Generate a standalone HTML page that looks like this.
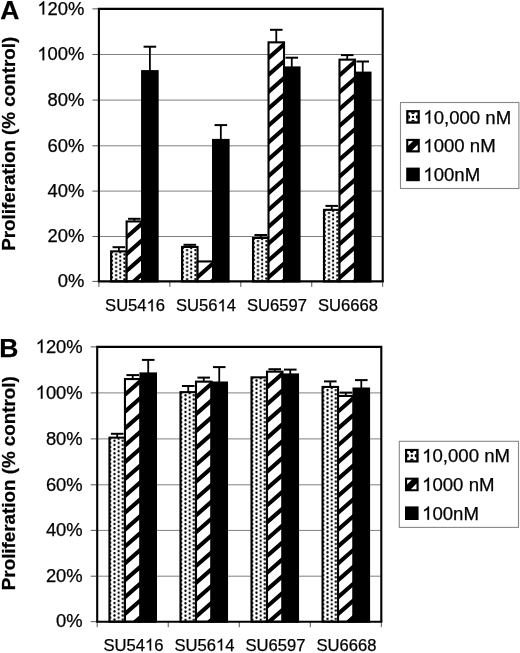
<!DOCTYPE html>
<html><head><meta charset="utf-8"><title>Proliferation chart</title>
<style>
html,body{margin:0;padding:0;background:#fff;}
body{width:520px;height:653px;overflow:hidden;font-family:"Liberation Sans", sans-serif;}
svg{display:block;filter:grayscale(1);}
</style></head><body>
<svg width="520" height="653" viewBox="0 0 520 653" font-family="Liberation Sans, sans-serif" fill="#000"><style>text{stroke:#000;stroke-width:0.25px;} .o{fill:none;stroke:none;}</style><defs><pattern id="p1" patternUnits="userSpaceOnUse" x="111.97" y="252.45" width="8.3" height="4.16"><rect width="8.3" height="4.16" fill="#fff"/><circle cx="0" cy="0" r="1.15"/><circle cx="8.3" cy="0" r="1.15"/><circle cx="0" cy="4.16" r="1.15"/><circle cx="8.3" cy="4.16" r="1.15"/><circle cx="4.15" cy="2.08" r="1.15"/></pattern><clipPath id="c2"><rect x="126.62" y="221.45" width="15.5" height="59.95"/></clipPath><pattern id="p3" patternUnits="userSpaceOnUse" x="182.92" y="248.05" width="8.3" height="4.16"><rect width="8.3" height="4.16" fill="#fff"/><circle cx="0" cy="0" r="1.15"/><circle cx="8.3" cy="0" r="1.15"/><circle cx="0" cy="4.16" r="1.15"/><circle cx="8.3" cy="4.16" r="1.15"/><circle cx="4.15" cy="2.08" r="1.15"/></pattern><clipPath id="c4"><rect x="197.57" y="261.45" width="15.5" height="19.95"/></clipPath><pattern id="p5" patternUnits="userSpaceOnUse" x="253.87" y="239.05" width="8.3" height="4.16"><rect width="8.3" height="4.16" fill="#fff"/><circle cx="0" cy="0" r="1.15"/><circle cx="8.3" cy="0" r="1.15"/><circle cx="0" cy="4.16" r="1.15"/><circle cx="8.3" cy="4.16" r="1.15"/><circle cx="4.15" cy="2.08" r="1.15"/></pattern><clipPath id="c6"><rect x="268.52" y="42.35" width="15.5" height="239.05"/></clipPath><pattern id="p7" patternUnits="userSpaceOnUse" x="324.83" y="210.95" width="8.3" height="4.16"><rect width="8.3" height="4.16" fill="#fff"/><circle cx="0" cy="0" r="1.15"/><circle cx="8.3" cy="0" r="1.15"/><circle cx="0" cy="4.16" r="1.15"/><circle cx="8.3" cy="4.16" r="1.15"/><circle cx="4.15" cy="2.08" r="1.15"/></pattern><clipPath id="c8"><rect x="339.48" y="59.65" width="15.5" height="221.75"/></clipPath><clipPath id="c9"><rect x="408.3" y="112.2" width="9.4" height="9.4"/></clipPath><pattern id="p10" patternUnits="userSpaceOnUse" x="110.31" y="438.75" width="8.3" height="4.16"><rect width="8.3" height="4.16" fill="#fff"/><circle cx="0" cy="0" r="1.15"/><circle cx="8.3" cy="0" r="1.15"/><circle cx="0" cy="4.16" r="1.15"/><circle cx="8.3" cy="4.16" r="1.15"/><circle cx="4.15" cy="2.08" r="1.15"/></pattern><clipPath id="c11"><rect x="124.96" y="379.05" width="15.5" height="242.65"/></clipPath><pattern id="p12" patternUnits="userSpaceOnUse" x="181.34" y="393.25" width="8.3" height="4.16"><rect width="8.3" height="4.16" fill="#fff"/><circle cx="0" cy="0" r="1.15"/><circle cx="8.3" cy="0" r="1.15"/><circle cx="0" cy="4.16" r="1.15"/><circle cx="8.3" cy="4.16" r="1.15"/><circle cx="4.15" cy="2.08" r="1.15"/></pattern><clipPath id="c13"><rect x="195.99" y="381.65" width="15.5" height="240.05"/></clipPath><pattern id="p14" patternUnits="userSpaceOnUse" x="252.36" y="378.45" width="8.3" height="4.16"><rect width="8.3" height="4.16" fill="#fff"/><circle cx="0" cy="0" r="1.15"/><circle cx="8.3" cy="0" r="1.15"/><circle cx="0" cy="4.16" r="1.15"/><circle cx="8.3" cy="4.16" r="1.15"/><circle cx="4.15" cy="2.08" r="1.15"/></pattern><clipPath id="c15"><rect x="267.01" y="371.65" width="15.5" height="250.05"/></clipPath><pattern id="p16" patternUnits="userSpaceOnUse" x="323.39" y="388.05" width="8.3" height="4.16"><rect width="8.3" height="4.16" fill="#fff"/><circle cx="0" cy="0" r="1.15"/><circle cx="8.3" cy="0" r="1.15"/><circle cx="0" cy="4.16" r="1.15"/><circle cx="8.3" cy="4.16" r="1.15"/><circle cx="4.15" cy="2.08" r="1.15"/></pattern><clipPath id="c17"><rect x="338.04" y="395.95" width="15.5" height="225.75"/></clipPath><clipPath id="c18"><rect x="407.1" y="451" width="9.4" height="9.4"/></clipPath></defs><g><rect width="520" height="653" fill="#fff"/><line x1="98.9" y1="54.5" x2="382.7" y2="54.5" stroke="#808080" stroke-width="1.0"/>
<line x1="98.9" y1="100.1" x2="382.7" y2="100.1" stroke="#808080" stroke-width="1.0"/>
<line x1="98.9" y1="145.8" x2="382.7" y2="145.8" stroke="#808080" stroke-width="1.0"/>
<line x1="98.9" y1="191.1" x2="382.7" y2="191.1" stroke="#808080" stroke-width="1.0"/>
<line x1="98.9" y1="236.5" x2="382.7" y2="236.5" stroke="#808080" stroke-width="1.0"/>
<line x1="92.4" y1="281.4" x2="98.9" y2="281.4" stroke="#555" stroke-width="1"/>
<line x1="92.4" y1="236.5" x2="98.9" y2="236.5" stroke="#555" stroke-width="1"/>
<line x1="92.4" y1="191.1" x2="98.9" y2="191.1" stroke="#555" stroke-width="1"/>
<line x1="92.4" y1="145.8" x2="98.9" y2="145.8" stroke="#555" stroke-width="1"/>
<line x1="92.4" y1="100.1" x2="98.9" y2="100.1" stroke="#555" stroke-width="1"/>
<line x1="92.4" y1="54.5" x2="98.9" y2="54.5" stroke="#555" stroke-width="1"/>
<line x1="92.4" y1="8.85" x2="98.9" y2="8.85" stroke="#555" stroke-width="1"/>
<line x1="98.9" y1="281.4" x2="98.9" y2="286.9" stroke="#555" stroke-width="1"/>
<line x1="169.85" y1="281.4" x2="169.85" y2="286.9" stroke="#555" stroke-width="1"/>
<line x1="240.8" y1="281.4" x2="240.8" y2="286.9" stroke="#555" stroke-width="1"/>
<line x1="311.75" y1="281.4" x2="311.75" y2="286.9" stroke="#555" stroke-width="1"/>
<line x1="382.7" y1="281.4" x2="382.7" y2="286.9" stroke="#555" stroke-width="1"/>
<text x="84.4" y="287.13" text-anchor="end" font-size="18.4" class="r">0%</text>
<text x="84.4" y="242.23" text-anchor="end" font-size="18.4" class="r">20%</text>
<text x="84.4" y="196.83" text-anchor="end" font-size="18.4" class="r">40%</text>
<text x="84.4" y="151.53" text-anchor="end" font-size="18.4" class="r">60%</text>
<text x="84.4" y="105.83" text-anchor="end" font-size="18.4" class="r">80%</text>
<text x="84.4" y="60.23" text-anchor="end" font-size="18.4" class="r"><tspan class="o">1</tspan>00%</text>
<text x="84.4" y="14.58" text-anchor="end" font-size="18.4" class="r"><tspan class="o">1</tspan>20%</text>
<rect x="111.12" y="251.35" width="15.5" height="30.05" fill="url(#p1)"/>
<rect x="111.12" y="251.35" width="15.5" height="30.05" fill="none" stroke="#000" stroke-width="2.1"/>
<line x1="118.88" y1="247.2" x2="118.88" y2="251.35" stroke="#000" stroke-width="1.8"/>
<line x1="112.58" y1="247.2" x2="125.17" y2="247.2" stroke="#000" stroke-width="2.0"/>
<g clip-path="url(#c2)"><rect x="126.62" y="221.45" width="15.5" height="59.95" fill="#fff"/><path d="M122.62 206.87L146.12 186.19M122.62 223.74L146.12 203.06M122.62 240.61L146.12 219.93M122.62 257.48L146.12 236.8M122.62 274.35L146.12 253.67M122.62 291.22L146.12 270.54M122.62 308.09L146.12 287.41M122.62 324.96L146.12 304.28" stroke="#000" stroke-width="4.1" fill="none"/></g>
<rect x="126.62" y="221.45" width="15.5" height="59.95" fill="none" stroke="#000" stroke-width="2.1"/>
<line x1="134.38" y1="218.8" x2="134.38" y2="221.45" stroke="#000" stroke-width="1.8"/>
<line x1="128.07" y1="218.8" x2="140.68" y2="218.8" stroke="#000" stroke-width="2.0"/>
<rect x="142.12" y="71.15" width="15.5" height="210.25" fill="#000"/>
<rect x="142.12" y="71.15" width="15.5" height="210.25" fill="none" stroke="#000" stroke-width="2.1"/>
<line x1="149.88" y1="46.7" x2="149.88" y2="71.15" stroke="#000" stroke-width="1.8"/>
<line x1="143.57" y1="46.7" x2="156.18" y2="46.7" stroke="#000" stroke-width="2.0"/>
<rect x="182.07" y="246.95" width="15.5" height="34.45" fill="url(#p3)"/>
<rect x="182.07" y="246.95" width="15.5" height="34.45" fill="none" stroke="#000" stroke-width="2.1"/>
<line x1="189.82" y1="244.8" x2="189.82" y2="246.95" stroke="#000" stroke-width="1.8"/>
<line x1="183.52" y1="244.8" x2="196.12" y2="244.8" stroke="#000" stroke-width="2.0"/>
<g clip-path="url(#c4)"><rect x="197.57" y="261.45" width="15.5" height="19.95" fill="#fff"/><path d="M193.57 246.87L217.07 226.19M193.57 263.74L217.07 243.06M193.57 280.61L217.07 259.93M193.57 297.48L217.07 276.8M193.57 314.35L217.07 293.67M193.57 331.22L217.07 310.54" stroke="#000" stroke-width="4.1" fill="none"/></g>
<rect x="197.57" y="261.45" width="15.5" height="19.95" fill="none" stroke="#000" stroke-width="2.1"/>
<rect x="213.07" y="139.95" width="15.5" height="141.45" fill="#000"/>
<rect x="213.07" y="139.95" width="15.5" height="141.45" fill="none" stroke="#000" stroke-width="2.1"/>
<line x1="220.82" y1="125.1" x2="220.82" y2="139.95" stroke="#000" stroke-width="1.8"/>
<line x1="214.52" y1="125.1" x2="227.12" y2="125.1" stroke="#000" stroke-width="2.0"/>
<rect x="253.02" y="237.95" width="15.5" height="43.45" fill="url(#p5)"/>
<rect x="253.02" y="237.95" width="15.5" height="43.45" fill="none" stroke="#000" stroke-width="2.1"/>
<line x1="260.77" y1="235" x2="260.77" y2="237.95" stroke="#000" stroke-width="1.8"/>
<line x1="254.47" y1="235" x2="267.07" y2="235" stroke="#000" stroke-width="2.0"/>
<g clip-path="url(#c6)"><rect x="268.52" y="42.35" width="15.5" height="239.05" fill="#fff"/><path d="M264.52 27.77L288.02 7.09M264.52 44.64L288.02 23.96M264.52 61.51L288.02 40.83M264.52 78.38L288.02 57.7M264.52 95.25L288.02 74.57M264.52 112.12L288.02 91.44M264.52 128.99L288.02 108.31M264.52 145.86L288.02 125.18M264.52 162.73L288.02 142.05M264.52 179.6L288.02 158.92M264.52 196.47L288.02 175.79M264.52 213.34L288.02 192.66M264.52 230.21L288.02 209.53M264.52 247.08L288.02 226.4M264.52 263.95L288.02 243.27M264.52 280.82L288.02 260.14M264.52 297.69L288.02 277.01M264.52 314.56L288.02 293.88M264.52 331.43L288.02 310.75" stroke="#000" stroke-width="4.1" fill="none"/></g>
<rect x="268.52" y="42.35" width="15.5" height="239.05" fill="none" stroke="#000" stroke-width="2.1"/>
<line x1="276.27" y1="29.8" x2="276.27" y2="42.35" stroke="#000" stroke-width="1.8"/>
<line x1="269.97" y1="29.8" x2="282.57" y2="29.8" stroke="#000" stroke-width="2.0"/>
<rect x="284.02" y="67.45" width="15.5" height="213.95" fill="#000"/>
<rect x="284.02" y="67.45" width="15.5" height="213.95" fill="none" stroke="#000" stroke-width="2.1"/>
<line x1="291.77" y1="57.7" x2="291.77" y2="67.45" stroke="#000" stroke-width="1.8"/>
<line x1="285.47" y1="57.7" x2="298.07" y2="57.7" stroke="#000" stroke-width="2.0"/>
<rect x="323.98" y="209.85" width="15.5" height="71.55" fill="url(#p7)"/>
<rect x="323.98" y="209.85" width="15.5" height="71.55" fill="none" stroke="#000" stroke-width="2.1"/>
<line x1="331.73" y1="205.9" x2="331.73" y2="209.85" stroke="#000" stroke-width="1.8"/>
<line x1="325.43" y1="205.9" x2="338.03" y2="205.9" stroke="#000" stroke-width="2.0"/>
<g clip-path="url(#c8)"><rect x="339.48" y="59.65" width="15.5" height="221.75" fill="#fff"/><path d="M335.48 45.07L358.98 24.39M335.48 61.94L358.98 41.26M335.48 78.81L358.98 58.13M335.48 95.68L358.98 75M335.48 112.55L358.98 91.87M335.48 129.42L358.98 108.74M335.48 146.29L358.98 125.61M335.48 163.16L358.98 142.48M335.48 180.03L358.98 159.35M335.48 196.9L358.98 176.22M335.48 213.77L358.98 193.09M335.48 230.64L358.98 209.96M335.48 247.51L358.98 226.83M335.48 264.38L358.98 243.7M335.48 281.25L358.98 260.57M335.48 298.12L358.98 277.44M335.48 314.99L358.98 294.31M335.48 331.86L358.98 311.18" stroke="#000" stroke-width="4.1" fill="none"/></g>
<rect x="339.48" y="59.65" width="15.5" height="221.75" fill="none" stroke="#000" stroke-width="2.1"/>
<line x1="347.23" y1="55.1" x2="347.23" y2="59.65" stroke="#000" stroke-width="1.8"/>
<line x1="340.93" y1="55.1" x2="353.53" y2="55.1" stroke="#000" stroke-width="2.0"/>
<rect x="354.98" y="72.65" width="15.5" height="208.75" fill="#000"/>
<rect x="354.98" y="72.65" width="15.5" height="208.75" fill="none" stroke="#000" stroke-width="2.1"/>
<line x1="362.73" y1="61.5" x2="362.73" y2="72.65" stroke="#000" stroke-width="1.8"/>
<line x1="356.43" y1="61.5" x2="369.03" y2="61.5" stroke="#000" stroke-width="2.0"/>
<path d="M98.9 281.4V8.85H382.7V281.4" fill="none" stroke="#000" stroke-width="2.1" stroke-linejoin="miter"/>
<line x1="97.85" y1="281.4" x2="383.75" y2="281.4" stroke="#000" stroke-width="2.1"/>
<text x="135.07" y="311.3" text-anchor="middle" font-size="16.6" class="r">SU54<tspan class="o">1</tspan>6</text>
<text x="206.02" y="311.3" text-anchor="middle" font-size="16.6" class="r">SU56<tspan class="o">1</tspan>4</text>
<text x="276.97" y="311.3" text-anchor="middle" font-size="16.6" class="r">SU6597</text>
<text x="347.92" y="311.3" text-anchor="middle" font-size="16.6" class="r">SU6668</text>
<text transform="translate(15,143.8) rotate(-90)" text-anchor="middle" font-size="18.8" font-weight="bold">Proliferation (% control)</text>
<text x="0.2" y="18.8" font-size="26.5" font-weight="bold">A</text>
<rect x="400.5" y="102.5" width="118.4" height="86" fill="#fff" stroke="#888" stroke-width="1.1"/>
<rect x="406.2" y="110.1" width="13.6" height="13.6" fill="#000"/>
<g clip-path="url(#c9)"><rect x="408.3" y="112.2" width="9.4" height="9.4" fill="#fff"/><circle cx="413" cy="116.9" r="1.2"/><circle cx="413" cy="112.2" r="1.9"/><circle cx="413" cy="121.6" r="1.9"/><circle cx="408.3" cy="116.9" r="1.9"/><circle cx="417.7" cy="116.9" r="1.9"/></g>
<text x="423.3" y="123.5" font-size="18.6" class="r"><tspan class="o">1</tspan>0,000 nM</text>
<rect x="406.2" y="138.85" width="13.6" height="13.6" fill="#000"/>
<path d="M408.3 140.95h4.8L408.3 145.75Z" fill="#fff"/>
<path d="M417.7 150.35h-5.6L417.7 144.75Z" fill="#fff"/>
<text x="423.3" y="152.25" font-size="18.6" class="r"><tspan class="o">1</tspan>000 nM</text>
<rect x="406.2" y="167.6" width="13.6" height="13.6" fill="#000"/>
<text x="423.3" y="181" font-size="18.6" class="r"><tspan class="o">1</tspan>00nM</text>
<line x1="97.2" y1="392.9" x2="381.3" y2="392.9" stroke="#808080" stroke-width="1.0"/>
<line x1="97.2" y1="438.9" x2="381.3" y2="438.9" stroke="#808080" stroke-width="1.0"/>
<line x1="97.2" y1="484.8" x2="381.3" y2="484.8" stroke="#808080" stroke-width="1.0"/>
<line x1="97.2" y1="530.4" x2="381.3" y2="530.4" stroke="#808080" stroke-width="1.0"/>
<line x1="97.2" y1="576.2" x2="381.3" y2="576.2" stroke="#808080" stroke-width="1.0"/>
<line x1="90.7" y1="621.7" x2="97.2" y2="621.7" stroke="#555" stroke-width="1"/>
<line x1="90.7" y1="576.2" x2="97.2" y2="576.2" stroke="#555" stroke-width="1"/>
<line x1="90.7" y1="530.4" x2="97.2" y2="530.4" stroke="#555" stroke-width="1"/>
<line x1="90.7" y1="484.8" x2="97.2" y2="484.8" stroke="#555" stroke-width="1"/>
<line x1="90.7" y1="438.9" x2="97.2" y2="438.9" stroke="#555" stroke-width="1"/>
<line x1="90.7" y1="392.9" x2="97.2" y2="392.9" stroke="#555" stroke-width="1"/>
<line x1="90.7" y1="346.9" x2="97.2" y2="346.9" stroke="#555" stroke-width="1"/>
<line x1="97.2" y1="621.7" x2="97.2" y2="627.2" stroke="#555" stroke-width="1"/>
<line x1="168.23" y1="621.7" x2="168.23" y2="627.2" stroke="#555" stroke-width="1"/>
<line x1="239.25" y1="621.7" x2="239.25" y2="627.2" stroke="#555" stroke-width="1"/>
<line x1="310.28" y1="621.7" x2="310.28" y2="627.2" stroke="#555" stroke-width="1"/>
<line x1="381.3" y1="621.7" x2="381.3" y2="627.2" stroke="#555" stroke-width="1"/>
<text x="82.7" y="627.43" text-anchor="end" font-size="18.4" class="r">0%</text>
<text x="82.7" y="581.93" text-anchor="end" font-size="18.4" class="r">20%</text>
<text x="82.7" y="536.13" text-anchor="end" font-size="18.4" class="r">40%</text>
<text x="82.7" y="490.53" text-anchor="end" font-size="18.4" class="r">60%</text>
<text x="82.7" y="444.63" text-anchor="end" font-size="18.4" class="r">80%</text>
<text x="82.7" y="398.63" text-anchor="end" font-size="18.4" class="r"><tspan class="o">1</tspan>00%</text>
<text x="82.7" y="352.63" text-anchor="end" font-size="18.4" class="r"><tspan class="o">1</tspan>20%</text>
<rect x="109.46" y="437.65" width="15.5" height="184.05" fill="url(#p10)"/>
<rect x="109.46" y="437.65" width="15.5" height="184.05" fill="none" stroke="#000" stroke-width="2.1"/>
<line x1="117.21" y1="433.8" x2="117.21" y2="437.65" stroke="#000" stroke-width="1.8"/>
<line x1="110.91" y1="433.8" x2="123.51" y2="433.8" stroke="#000" stroke-width="2.0"/>
<g clip-path="url(#c11)"><rect x="124.96" y="379.05" width="15.5" height="242.65" fill="#fff"/><path d="M120.96 364.47L144.46 343.79M120.96 381.34L144.46 360.66M120.96 398.21L144.46 377.53M120.96 415.08L144.46 394.4M120.96 431.95L144.46 411.27M120.96 448.82L144.46 428.14M120.96 465.69L144.46 445.01M120.96 482.56L144.46 461.88M120.96 499.43L144.46 478.75M120.96 516.3L144.46 495.62M120.96 533.17L144.46 512.49M120.96 550.04L144.46 529.36M120.96 566.91L144.46 546.23M120.96 583.78L144.46 563.1M120.96 600.65L144.46 579.97M120.96 617.52L144.46 596.84M120.96 634.39L144.46 613.71M120.96 651.26L144.46 630.58M120.96 668.13L144.46 647.45" stroke="#000" stroke-width="4.1" fill="none"/></g>
<rect x="124.96" y="379.05" width="15.5" height="242.65" fill="none" stroke="#000" stroke-width="2.1"/>
<line x1="132.71" y1="375.1" x2="132.71" y2="379.05" stroke="#000" stroke-width="1.8"/>
<line x1="126.41" y1="375.1" x2="139.01" y2="375.1" stroke="#000" stroke-width="2.0"/>
<rect x="140.46" y="373.45" width="15.5" height="248.25" fill="#000"/>
<rect x="140.46" y="373.45" width="15.5" height="248.25" fill="none" stroke="#000" stroke-width="2.1"/>
<line x1="148.21" y1="359.9" x2="148.21" y2="373.45" stroke="#000" stroke-width="1.8"/>
<line x1="141.91" y1="359.9" x2="154.51" y2="359.9" stroke="#000" stroke-width="2.0"/>
<rect x="180.49" y="392.15" width="15.5" height="229.55" fill="url(#p12)"/>
<rect x="180.49" y="392.15" width="15.5" height="229.55" fill="none" stroke="#000" stroke-width="2.1"/>
<line x1="188.24" y1="386" x2="188.24" y2="392.15" stroke="#000" stroke-width="1.8"/>
<line x1="181.94" y1="386" x2="194.54" y2="386" stroke="#000" stroke-width="2.0"/>
<g clip-path="url(#c13)"><rect x="195.99" y="381.65" width="15.5" height="240.05" fill="#fff"/><path d="M191.99 367.07L215.49 346.39M191.99 383.94L215.49 363.26M191.99 400.81L215.49 380.13M191.99 417.68L215.49 397M191.99 434.55L215.49 413.87M191.99 451.42L215.49 430.74M191.99 468.29L215.49 447.61M191.99 485.16L215.49 464.48M191.99 502.03L215.49 481.35M191.99 518.9L215.49 498.22M191.99 535.77L215.49 515.09M191.99 552.64L215.49 531.96M191.99 569.51L215.49 548.83M191.99 586.38L215.49 565.7M191.99 603.25L215.49 582.57M191.99 620.12L215.49 599.44M191.99 636.99L215.49 616.31M191.99 653.86L215.49 633.18M191.99 670.73L215.49 650.05" stroke="#000" stroke-width="4.1" fill="none"/></g>
<rect x="195.99" y="381.65" width="15.5" height="240.05" fill="none" stroke="#000" stroke-width="2.1"/>
<line x1="203.74" y1="377.6" x2="203.74" y2="381.65" stroke="#000" stroke-width="1.8"/>
<line x1="197.44" y1="377.6" x2="210.04" y2="377.6" stroke="#000" stroke-width="2.0"/>
<rect x="211.49" y="382.55" width="15.5" height="239.15" fill="#000"/>
<rect x="211.49" y="382.55" width="15.5" height="239.15" fill="none" stroke="#000" stroke-width="2.1"/>
<line x1="219.24" y1="367.1" x2="219.24" y2="382.55" stroke="#000" stroke-width="1.8"/>
<line x1="212.94" y1="367.1" x2="225.54" y2="367.1" stroke="#000" stroke-width="2.0"/>
<rect x="251.51" y="377.35" width="15.5" height="244.35" fill="url(#p14)"/>
<rect x="251.51" y="377.35" width="15.5" height="244.35" fill="none" stroke="#000" stroke-width="2.1"/>
<g clip-path="url(#c15)"><rect x="267.01" y="371.65" width="15.5" height="250.05" fill="#fff"/><path d="M263.01 357.07L286.51 336.39M263.01 373.94L286.51 353.26M263.01 390.81L286.51 370.13M263.01 407.68L286.51 387M263.01 424.55L286.51 403.87M263.01 441.42L286.51 420.74M263.01 458.29L286.51 437.61M263.01 475.16L286.51 454.48M263.01 492.03L286.51 471.35M263.01 508.9L286.51 488.22M263.01 525.77L286.51 505.09M263.01 542.64L286.51 521.96M263.01 559.51L286.51 538.83M263.01 576.38L286.51 555.7M263.01 593.25L286.51 572.57M263.01 610.12L286.51 589.44M263.01 626.99L286.51 606.31M263.01 643.86L286.51 623.18M263.01 660.73L286.51 640.05" stroke="#000" stroke-width="4.1" fill="none"/></g>
<rect x="267.01" y="371.65" width="15.5" height="250.05" fill="none" stroke="#000" stroke-width="2.1"/>
<line x1="274.76" y1="369.2" x2="274.76" y2="371.65" stroke="#000" stroke-width="1.8"/>
<line x1="268.46" y1="369.2" x2="281.06" y2="369.2" stroke="#000" stroke-width="2.0"/>
<rect x="282.51" y="374.45" width="15.5" height="247.25" fill="#000"/>
<rect x="282.51" y="374.45" width="15.5" height="247.25" fill="none" stroke="#000" stroke-width="2.1"/>
<line x1="290.26" y1="369.6" x2="290.26" y2="374.45" stroke="#000" stroke-width="1.8"/>
<line x1="283.96" y1="369.6" x2="296.56" y2="369.6" stroke="#000" stroke-width="2.0"/>
<rect x="322.54" y="386.95" width="15.5" height="234.75" fill="url(#p16)"/>
<rect x="322.54" y="386.95" width="15.5" height="234.75" fill="none" stroke="#000" stroke-width="2.1"/>
<line x1="330.29" y1="381.4" x2="330.29" y2="386.95" stroke="#000" stroke-width="1.8"/>
<line x1="323.99" y1="381.4" x2="336.59" y2="381.4" stroke="#000" stroke-width="2.0"/>
<g clip-path="url(#c17)"><rect x="338.04" y="395.95" width="15.5" height="225.75" fill="#fff"/><path d="M334.04 381.37L357.54 360.69M334.04 398.24L357.54 377.56M334.04 415.11L357.54 394.43M334.04 431.98L357.54 411.3M334.04 448.85L357.54 428.17M334.04 465.72L357.54 445.04M334.04 482.59L357.54 461.91M334.04 499.46L357.54 478.78M334.04 516.33L357.54 495.65M334.04 533.2L357.54 512.52M334.04 550.07L357.54 529.39M334.04 566.94L357.54 546.26M334.04 583.81L357.54 563.13M334.04 600.68L357.54 580M334.04 617.55L357.54 596.87M334.04 634.42L357.54 613.74M334.04 651.29L357.54 630.61M334.04 668.16L357.54 647.48" stroke="#000" stroke-width="4.1" fill="none"/></g>
<rect x="338.04" y="395.95" width="15.5" height="225.75" fill="none" stroke="#000" stroke-width="2.1"/>
<line x1="345.79" y1="392.6" x2="345.79" y2="395.95" stroke="#000" stroke-width="1.8"/>
<line x1="339.49" y1="392.6" x2="352.09" y2="392.6" stroke="#000" stroke-width="2.0"/>
<rect x="353.54" y="388.55" width="15.5" height="233.15" fill="#000"/>
<rect x="353.54" y="388.55" width="15.5" height="233.15" fill="none" stroke="#000" stroke-width="2.1"/>
<line x1="361.29" y1="380.1" x2="361.29" y2="388.55" stroke="#000" stroke-width="1.8"/>
<line x1="354.99" y1="380.1" x2="367.59" y2="380.1" stroke="#000" stroke-width="2.0"/>
<path d="M97.2 621.7V346.9H381.3V621.7" fill="none" stroke="#000" stroke-width="2.1" stroke-linejoin="miter"/>
<line x1="96.15" y1="621.7" x2="382.35" y2="621.7" stroke="#000" stroke-width="2.1"/>
<text x="133.41" y="650.6" text-anchor="middle" font-size="16.6" class="r">SU54<tspan class="o">1</tspan>6</text>
<text x="204.44" y="650.6" text-anchor="middle" font-size="16.6" class="r">SU56<tspan class="o">1</tspan>4</text>
<text x="275.46" y="650.6" text-anchor="middle" font-size="16.6" class="r">SU6597</text>
<text x="346.49" y="650.6" text-anchor="middle" font-size="16.6" class="r">SU6668</text>
<text transform="translate(15,483.2) rotate(-90)" text-anchor="middle" font-size="18.8" font-weight="bold">Proliferation (% control)</text>
<text x="-0.8" y="357" font-size="26.5" font-weight="bold">B</text>
<rect x="399.3" y="441.3" width="119.2" height="86.1" fill="#fff" stroke="#888" stroke-width="1.1"/>
<rect x="405" y="448.9" width="13.6" height="13.6" fill="#000"/>
<g clip-path="url(#c18)"><rect x="407.1" y="451" width="9.4" height="9.4" fill="#fff"/><circle cx="411.8" cy="455.7" r="1.2"/><circle cx="411.8" cy="451" r="1.9"/><circle cx="411.8" cy="460.4" r="1.9"/><circle cx="407.1" cy="455.7" r="1.9"/><circle cx="416.5" cy="455.7" r="1.9"/></g>
<text x="422.1" y="462.3" font-size="18.6" class="r"><tspan class="o">1</tspan>0,000 nM</text>
<rect x="405" y="477.65" width="13.6" height="13.6" fill="#000"/>
<path d="M407.1 479.75h4.8L407.1 484.55Z" fill="#fff"/>
<path d="M416.5 489.15h-5.6L416.5 483.55Z" fill="#fff"/>
<text x="422.1" y="491.05" font-size="18.6" class="r"><tspan class="o">1</tspan>000 nM</text>
<rect x="405" y="506.4" width="13.6" height="13.6" fill="#000"/>
<text x="422.1" y="519.8" font-size="18.6" class="r"><tspan class="o">1</tspan>00nM</text><g fill="#000" stroke="#000" stroke-width="0.25" style="vector-effect:non-scaling-stroke"><path vector-effect="non-scaling-stroke" transform="translate(37.35,60.23) scale(0.00898,-0.00898)" d="M763 0L583 0L583 1147C540 1106 483 1064 412 1023C341 981 277 950 221 930L221 1104C322 1151 410 1208 485 1276C560 1343 613 1409 645 1472L763 1472Z"/><path vector-effect="non-scaling-stroke" transform="translate(37.35,14.58) scale(0.00898,-0.00898)" d="M763 0L583 0L583 1147C540 1106 483 1064 412 1023C341 981 277 950 221 930L221 1104C322 1151 410 1208 485 1276C560 1343 613 1409 645 1472L763 1472Z"/><path vector-effect="non-scaling-stroke" transform="translate(146.59,311.30) scale(0.00811,-0.00811)" d="M763 0L583 0L583 1147C540 1106 483 1064 412 1023C341 981 277 950 221 930L221 1104C322 1151 410 1208 485 1276C560 1343 613 1409 645 1472L763 1472Z"/><path vector-effect="non-scaling-stroke" transform="translate(217.54,311.30) scale(0.00811,-0.00811)" d="M763 0L583 0L583 1147C540 1106 483 1064 412 1023C341 981 277 950 221 930L221 1104C322 1151 410 1208 485 1276C560 1343 613 1409 645 1472L763 1472Z"/><path vector-effect="non-scaling-stroke" transform="translate(423.30,123.50) scale(0.00908,-0.00908)" d="M763 0L583 0L583 1147C540 1106 483 1064 412 1023C341 981 277 950 221 930L221 1104C322 1151 410 1208 485 1276C560 1343 613 1409 645 1472L763 1472Z"/><path vector-effect="non-scaling-stroke" transform="translate(423.30,152.25) scale(0.00908,-0.00908)" d="M763 0L583 0L583 1147C540 1106 483 1064 412 1023C341 981 277 950 221 930L221 1104C322 1151 410 1208 485 1276C560 1343 613 1409 645 1472L763 1472Z"/><path vector-effect="non-scaling-stroke" transform="translate(423.30,181.00) scale(0.00908,-0.00908)" d="M763 0L583 0L583 1147C540 1106 483 1064 412 1023C341 981 277 950 221 930L221 1104C322 1151 410 1208 485 1276C560 1343 613 1409 645 1472L763 1472Z"/><path vector-effect="non-scaling-stroke" transform="translate(35.65,398.63) scale(0.00898,-0.00898)" d="M763 0L583 0L583 1147C540 1106 483 1064 412 1023C341 981 277 950 221 930L221 1104C322 1151 410 1208 485 1276C560 1343 613 1409 645 1472L763 1472Z"/><path vector-effect="non-scaling-stroke" transform="translate(35.65,352.63) scale(0.00898,-0.00898)" d="M763 0L583 0L583 1147C540 1106 483 1064 412 1023C341 981 277 950 221 930L221 1104C322 1151 410 1208 485 1276C560 1343 613 1409 645 1472L763 1472Z"/><path vector-effect="non-scaling-stroke" transform="translate(144.93,650.60) scale(0.00811,-0.00811)" d="M763 0L583 0L583 1147C540 1106 483 1064 412 1023C341 981 277 950 221 930L221 1104C322 1151 410 1208 485 1276C560 1343 613 1409 645 1472L763 1472Z"/><path vector-effect="non-scaling-stroke" transform="translate(215.96,650.60) scale(0.00811,-0.00811)" d="M763 0L583 0L583 1147C540 1106 483 1064 412 1023C341 981 277 950 221 930L221 1104C322 1151 410 1208 485 1276C560 1343 613 1409 645 1472L763 1472Z"/><path vector-effect="non-scaling-stroke" transform="translate(422.10,462.30) scale(0.00908,-0.00908)" d="M763 0L583 0L583 1147C540 1106 483 1064 412 1023C341 981 277 950 221 930L221 1104C322 1151 410 1208 485 1276C560 1343 613 1409 645 1472L763 1472Z"/><path vector-effect="non-scaling-stroke" transform="translate(422.10,491.05) scale(0.00908,-0.00908)" d="M763 0L583 0L583 1147C540 1106 483 1064 412 1023C341 981 277 950 221 930L221 1104C322 1151 410 1208 485 1276C560 1343 613 1409 645 1472L763 1472Z"/><path vector-effect="non-scaling-stroke" transform="translate(422.10,519.80) scale(0.00908,-0.00908)" d="M763 0L583 0L583 1147C540 1106 483 1064 412 1023C341 981 277 950 221 930L221 1104C322 1151 410 1208 485 1276C560 1343 613 1409 645 1472L763 1472Z"/></g></g></svg>
</body></html>
